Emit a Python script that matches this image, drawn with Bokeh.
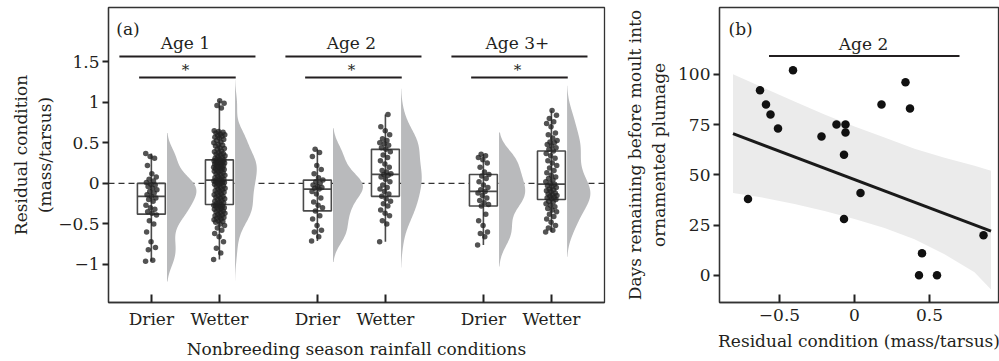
import numpy as np
from bokeh.plotting import figure
from bokeh.layouts import row
from bokeh.models import FixedTicker, Range1d, Label
from bokeh.core.properties import value
from bokeh.embed import file_html
from bokeh.resources import INLINE

FONT = "DejaVu Serif"
INK = "#231f20"

# ---------------- panel (a) data ----------------
age_groups = ["Age 1", "Age 2", "Age 3+"]
rain_labels = ["Drier", "Wetter"]
group_pos = [0.0, 1.0, 2.44, 3.44, 4.88, 5.88]
sig_marks = ["*", "*", "*"]

age1_drier = [-0.96, -0.95, -0.82, -0.79, -0.72, -0.60, -0.50, -0.46, -0.39, -0.37,
              -0.35, -0.32, -0.30, -0.27, -0.22, -0.20, -0.18, -0.16, -0.14, -0.12,
              -0.10, -0.08, -0.06, -0.04, -0.02, -0.01, 0.01, 0.03, 0.05, 0.08,
              0.12, 0.22, 0.31, 0.33, 0.37]
age1_wetter = [-0.94, -0.86, -0.80, -0.72, -0.66, -0.62, -0.58, -0.55, -0.52, -0.50, -0.48,
               -0.47, -0.46, -0.45, -0.44, -0.43, -0.42, -0.41, -0.40, -0.39, -0.38, -0.37,
               -0.36, -0.35, -0.34, -0.33, -0.32, -0.31, -0.30, -0.30, -0.29, -0.28, -0.28,
               -0.27, -0.27, -0.26,
               -0.25, -0.24, -0.23, -0.22, -0.21, -0.20, -0.19, -0.18, -0.17, -0.16, -0.15,
               -0.14, -0.13, -0.12, -0.11, -0.10, -0.09, -0.08, -0.07, -0.06, -0.05, -0.04,
               -0.03, -0.02, -0.01, 0.00, 0.00, 0.01, 0.01, 0.02, 0.02, 0.03, 0.03, 0.04, 0.04,
               0.05, 0.06, 0.07, 0.08, 0.09, 0.10, 0.11, 0.12, 0.13, 0.14, 0.15, 0.16, 0.16,
               0.17, 0.18, 0.18, 0.19, 0.20, 0.20, 0.21, 0.22, 0.22, 0.23, 0.24, 0.24, 0.25,
               0.25, 0.26, 0.26, 0.27, 0.27, 0.28, 0.28, 0.29, 0.29,
               0.30, 0.31, 0.32, 0.33, 0.34, 0.35, 0.36, 0.37, 0.38, 0.39, 0.40, 0.42, 0.43,
               0.44, 0.46, 0.47, 0.48, 0.50, 0.51, 0.53, 0.54, 0.56, 0.57, 0.58, 0.59, 0.60,
               0.61, 0.62, 0.63, 0.64, 0.65, 0.93, 0.96, 0.99, 1.02]
age2_drier = [-0.71, -0.66, -0.60, -0.58, -0.52, -0.44, -0.40, -0.34, -0.30, -0.27,
              -0.23, -0.18, -0.13, -0.10, -0.07, -0.06, -0.05, -0.04, -0.02, 0.00,
              0.02, 0.04, 0.07, 0.12, 0.17, 0.22, 0.33, 0.38, 0.42]
age2_wetter = [-0.72, -0.50, -0.46, -0.40, -0.37, -0.33, -0.28, -0.25, -0.22, -0.19,
               -0.16, -0.13, -0.10, -0.07, -0.05, -0.02, 0.02, 0.05, 0.08, 0.10,
               0.11, 0.12, 0.14, 0.16, 0.20, 0.24, 0.28, 0.32, 0.35, 0.39,
               0.42, 0.44, 0.47, 0.49, 0.50, 0.53, 0.55, 0.60, 0.65, 0.70, 0.85]
age3_drier = [-0.76, -0.66, -0.62, -0.60, -0.52, -0.46, -0.38, -0.28, -0.26, -0.24,
              -0.21, -0.18, -0.15, -0.12, -0.10, -0.08, -0.05, -0.02, 0.02, 0.06,
              0.09, 0.11, 0.14, 0.20, 0.25, 0.29, 0.32, 0.34, 0.36]
age3_wetter = [-0.60, -0.58, -0.55, -0.52, -0.48, -0.44, -0.41, -0.38, -0.35, -0.33,
               -0.31, -0.29, -0.27, -0.25, -0.23, -0.22, -0.20, -0.19, -0.18, -0.17,
               -0.16, -0.15, -0.14, -0.13, -0.12, -0.10, -0.09, -0.08, -0.07, -0.05,
               -0.04, -0.03, -0.01, 0.00, 0.02, 0.04, 0.06, 0.08, 0.10, 0.13,
               0.16, 0.19, 0.22, 0.25, 0.28, 0.31, 0.34, 0.37, 0.40, 0.42,
               0.44, 0.46, 0.48, 0.50, 0.51, 0.53, 0.56, 0.60, 0.62, 0.70,
               0.74, 0.76, 0.80, 0.84, 0.90]

series_a = [age1_drier, age1_wetter, age2_drier, age2_wetter, age3_drier, age3_wetter]

# ---------------- panel (b) data ----------------
resid_cond = [-0.71, -0.63, -0.59, -0.56, -0.51, -0.41, -0.22, -0.12, -0.06, -0.06,
              -0.07, -0.07, 0.04, 0.18, 0.34, 0.37, 0.45, 0.43, 0.55, 0.86]
days_left = [38, 92, 85, 80, 73, 102, 69, 75, 75, 71,
             60, 28, 41, 85, 96, 83, 11, 0, 0, 20]
fit_x = [-0.81, 0.91]
fit_y = [70.5, 22.0]
band_x = [-0.81, -0.6, -0.4, -0.2, 0.0, 0.2, 0.4, 0.6, 0.8, 0.91]
band_hi = [100, 93, 86.5, 80, 74, 68.5, 63, 58.5, 54.5, 52]
band_lo = [41, 38.5, 35.5, 32, 28, 23.5, 18, 10.5, 1.5, -7]


def kde_profile(vals, n=256, cut=2.0):
    v = np.asarray(vals, dtype=float)
    sd = v.std(ddof=1)
    q75, q25 = np.percentile(v, [75, 25])
    bw = 0.9 * min(sd, (q75 - q25) / 1.34) * len(v) ** -0.2
    grid = np.linspace(v.min() - cut * bw, v.max() + cut * bw, n)
    z = (grid[:, None] - v[None, :]) / bw
    dens = np.exp(-0.5 * z ** 2).sum(axis=1) / (len(v) * bw * np.sqrt(2 * np.pi))
    return grid, dens


def style_axes(p):
    for ax in (p.xaxis, p.yaxis):
        ax.axis_label_text_font = FONT
        ax.axis_label_text_font_size = "17px"
        ax.axis_label_text_font_style = "normal"
        ax.axis_label_text_color = INK
        ax.major_label_text_font = FONT
        ax.major_label_text_font_size = "17px"
        ax.major_label_text_color = INK
        ax.axis_line_color = "#333333"
        ax.axis_line_width = 1.3
        ax.major_tick_line_color = "#222222"
        ax.major_tick_line_width = 2
        ax.minor_tick_line_color = None
    p.xaxis.major_tick_in = 8
    p.xaxis.major_tick_out = 0
    p.xaxis.major_label_standoff = 6
    p.xaxis.axis_label_standoff = 7
    p.yaxis.major_tick_in = 0
    p.yaxis.major_tick_out = 6
    p.yaxis.major_label_standoff = 3
    p.xgrid.grid_line_color = None
    p.ygrid.grid_line_color = None
    p.outline_line_color = "#333333"
    p.outline_line_width = 1.3


# ---------------- panel (a) ----------------
pa = figure(width=612, height=361, output_backend="svg", toolbar_location=None,
            x_range=Range1d(-0.63, 6.66), y_range=Range1d(-1.47, 2.17),
            min_border_left=108, min_border_right=8, min_border_top=7, min_border_bottom=58)
style_axes(pa)
pa.yaxis.axis_label_standoff = 0
pa.xaxis.ticker = FixedTicker(ticks=group_pos)
pa.xaxis.major_label_overrides = {pos: rain_labels[i % 2] for i, pos in enumerate(group_pos)}
y_ticks_a = [-1, -0.5, 0, 0.5, 1, 1.5]
pa.yaxis.ticker = FixedTicker(ticks=y_ticks_a)
pa.yaxis.major_label_overrides = {t: ("%g" % t).replace("-", "\u2212") for t in y_ticks_a}
pa.xaxis.axis_label = "Nonbreeding season rainfall conditions"
pa.yaxis.axis_label = "Residual condition\n(mass/tarsus)"

# reference line at zero
pa.segment(x0=[-0.63], y0=[0], x1=[6.66], y1=[0], line_color="#333333",
           line_width=1.4, line_dash="6 4")

# half violins to the right of each box
profiles = [kde_profile(s) for s in series_a]
dmax = max(d.max() for _, d in profiles)
v_width = 0.44
v_offset = 0.23
for pos, (grid, dens) in zip(group_pos, profiles):
    base = pos + v_offset
    pa.harea(y=grid, x1=np.full_like(grid, base), x2=base + dens / dmax * v_width,
             fill_color="#b9babc", fill_alpha=1.0)

# boxes, whiskers, medians and jittered points
box_half = 0.205
golden = 0.6180339887
for pos, s in zip(group_pos, series_a):
    v = np.asarray(s, dtype=float)
    q1, med, q3 = np.percentile(v, [25, 50, 75])
    pa.quad(left=[pos - box_half], right=[pos + box_half], bottom=[q1], top=[q3],
            fill_color="white", line_color="#4a4a4a", line_width=1.6)
    pa.segment(x0=[pos], y0=[v.min()], x1=[pos], y1=[v.max()],
               line_color="#4a4a4a", line_width=1.6)
    pa.segment(x0=[pos - box_half], y0=[med], x1=[pos + box_half], y1=[med],
               line_color="#4a4a4a", line_width=1.8)
    jitter = ((np.arange(len(v)) * golden) % 1.0 - 0.5) * 0.17
    pa.scatter(x=pos + jitter, y=v, size=5.5, fill_color="#222222", line_color=None,
               fill_alpha=0.78)

# age-class and significance brackets
age_centres = [(group_pos[2 * k] + group_pos[2 * k + 1]) / 2 + 0.03 for k in range(3)]
pa.segment(x0=[c - 1.0 for c in age_centres], y0=[1.564] * 3,
           x1=[c + 1.0 for c in age_centres], y1=[1.564] * 3,
           line_color=INK, line_width=2)
pa.segment(x0=[c - 0.71 for c in age_centres], y0=[1.305] * 3,
           x1=[c + 0.71 for c in age_centres], y1=[1.305] * 3,
           line_color=INK, line_width=2)
pa.text(x=[c - 0.03 for c in age_centres], y=[1.728] * 3, text=age_groups,
        text_font=value(FONT), text_font_size="17px", text_color=INK,
        text_align="center", text_baseline="alphabetic")
pa.text(x=[c - 0.03 for c in age_centres], y=[1.40] * 3, text=sig_marks,
        text_font=value(FONT), text_font_size="15px", text_color=INK,
        text_align="center", text_baseline="alphabetic")
pa.add_layout(Label(x=-0.515, y=1.90, text="(a)", text_font=FONT, text_font_size="17px",
                    text_color=INK, text_baseline="alphabetic"))

# ---------------- panel (b) ----------------
pb = figure(width=387, height=361, output_backend="svg", toolbar_location=None,
            x_range=Range1d(-0.9, 0.96), y_range=Range1d(-13.5, 133.2),
            min_border_left=107, min_border_right=1, min_border_top=7, min_border_bottom=58)
style_axes(pb)
pb.yaxis.axis_label_standoff = 6
x_ticks_b = [-0.5, 0, 0.5]
pb.xaxis.ticker = FixedTicker(ticks=x_ticks_b)
pb.xaxis.major_label_overrides = {t: ("%g" % t).replace("-", "\u2212") for t in x_ticks_b}
pb.yaxis.ticker = FixedTicker(ticks=[0, 25, 50, 75, 100])
pb.xaxis.axis_label = "Residual condition (mass/tarsus)"
pb.yaxis.axis_label = "Days remaining before moult into\nornamented plumage"

pb.varea(x=band_x, y1=band_lo, y2=band_hi, fill_color="#ebebeb")
pb.line(x=fit_x, y=fit_y, line_color="#1a1a1a", line_width=3)
pb.scatter(x=resid_cond, y=days_left, size=8.5, fill_color="#111111", line_color=None)

pb.segment(x0=[-0.57], y0=[109.1], x1=[0.70], y1=[109.1], line_color=INK, line_width=2)
pb.text(x=[0.06], y=[115.0], text=["Age 2"], text_font=value(FONT), text_font_size="17px",
        text_color=INK, text_align="center", text_baseline="alphabetic")
pb.add_layout(Label(x=-0.84, y=122.3, text="(b)", text_font=FONT, text_font_size="17px",
                    text_color=INK, text_baseline="alphabetic"))

layout = row(pa, pb)
open("out.html", "w").write(file_html(layout, INLINE))
